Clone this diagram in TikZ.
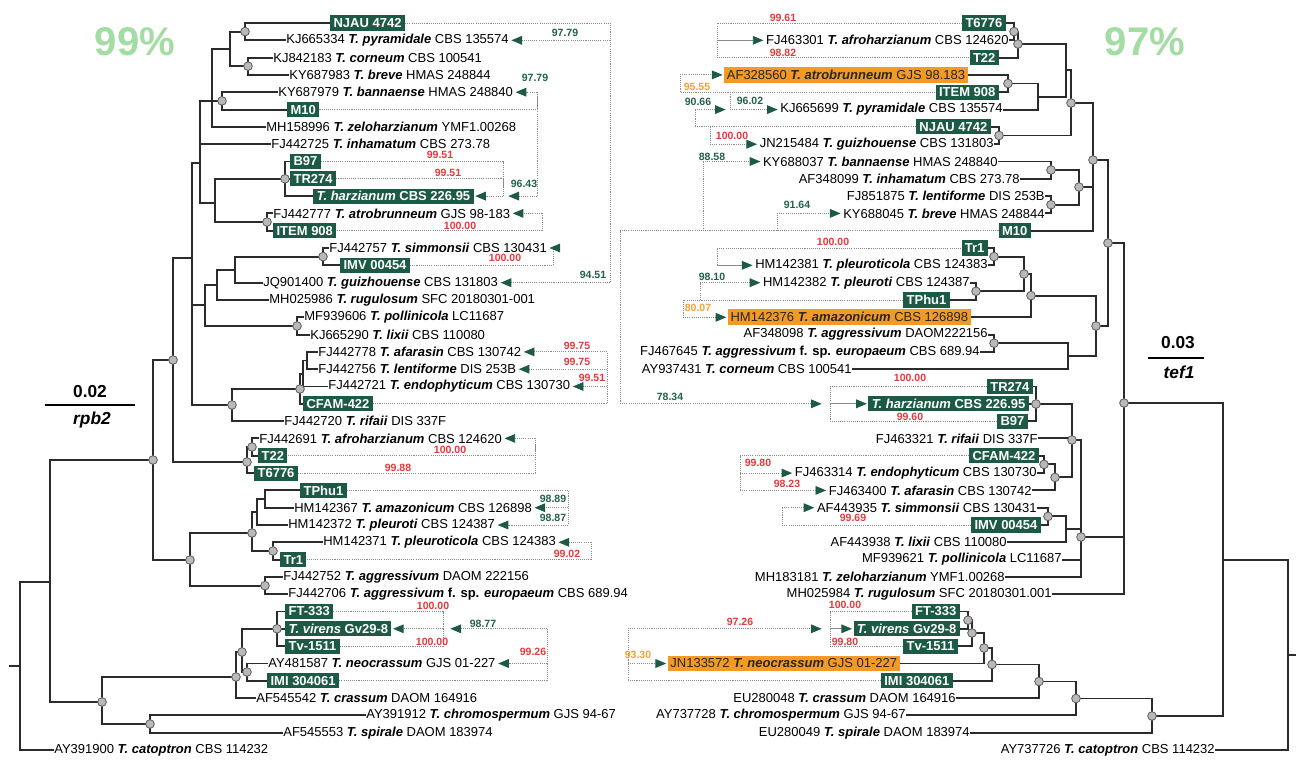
\documentclass[tikz,border=0pt]{standalone}
\usepackage{fontspec}
\setmainfont{Liberation Sans}
\usetikzlibrary{arrows.meta}
\definecolor{boxgreen}{HTML}{1D5A45}
\definecolor{hitorange}{HTML}{F39A26}
\definecolor{pctred}{HTML}{E5393B}
\definecolor{pctgreen}{HTML}{22614A}
\definecolor{pctorange}{HTML}{F0A33A}
\definecolor{bigpct}{HTML}{A3DDA3}
\definecolor{branch}{HTML}{2B2B2B}
\definecolor{dotline}{HTML}{8A8A8A}
\newcommand{\taxon}[1]{\textbf{\textit{#1}}}
\pgfdeclarelayer{bg}
\pgfsetlayers{bg,main}
\tikzset{
  lab/.style={font=\fontsize{9.75pt}{11pt}\selectfont, inner sep=0.8pt, text=black},
  gbox/.style={font=\fontsize{9.75pt}{11pt}\selectfont\bfseries, fill=boxgreen, text=white,
    inner xsep=2.5pt, inner ysep=1pt, minimum height=11.3pt},
  obox/.style={font=\fontsize{9.75pt}{11pt}\selectfont, fill=hitorange, text=black!85,
    inner xsep=2pt, inner ysep=1pt, minimum height=11.8pt},
  br/.style={draw=branch, line width=1.4pt, line cap=rect},
  dotnode/.style={circle, fill=gray!55, draw=black!65, line width=0.6pt, inner sep=0pt, minimum size=6.5pt},
  conn/.style={draw=dotline, line width=0.7pt, dash pattern=on 0.8pt off 0.8pt},
  solidconn/.style={draw=dotline, line width=0.7pt},
  arr/.style={-{Triangle[length=8pt,width=6.5pt,color=boxgreen]}, shorten >=1pt},
  pct/.style={font=\fontsize{7.9pt}{9pt}\selectfont\bfseries, inner sep=0pt},
  pr/.style={pct, text=pctred},
  pg/.style={pct, text=pctgreen},
  po/.style={pct, text=pctorange},
  bigp/.style={font=\fontsize{30pt}{32pt}\selectfont\bfseries, text=bigpct},
  scl/.style={font=\fontsize{13pt}{14pt}\selectfont\bfseries},
}
\begin{document}
\begin{tikzpicture}[x=0.75pt,y=-0.75pt]
\useasboundingbox (0,0) rectangle (1296,760);

% ---------------- rpb2 tree (left) ----------------
% leaves
\node[gbox,anchor=west] (L1) at (330,23.0) {NJAU 4742};
\node[lab,anchor=west] (L2) at (285,40.3) {KJ665334 \taxon{T. pyramidale} CBS 135574};
\node[lab,anchor=west] (L3) at (272,57.6) {KJ842183 \taxon{T. corneum} CBS 100541};
\node[lab,anchor=west] (L4) at (288,74.9) {KY687983 \taxon{T. breve} HMAS 248844};
\node[lab,anchor=west] (L5) at (277,92.2) {KY687979 \taxon{T. bannaense} HMAS 248840};
\node[gbox,anchor=west] (L6) at (287,109.6) {M10};
\node[lab,anchor=west] (L7) at (265,126.9) {MH158996 \taxon{T. zeloharzianum} YMF1.00268};
\node[lab,anchor=west] (L8) at (270,144.2) {FJ442725 \taxon{T. inhamatum} CBS 273.78};
\node[gbox,anchor=west] (L9) at (290,161.5) {B97};
\node[gbox,anchor=west] (L10) at (290,178.8) {TR274};
\node[gbox,anchor=west] (L11) at (313,196.1) {\textit{T. harzianum} CBS 226.95};
\node[lab,anchor=west] (L12) at (272,213.4) {FJ442777 \taxon{T. atrobrunneum} GJS 98-183};
\node[gbox,anchor=west] (L13) at (273,230.7) {ITEM 908};
\node[lab,anchor=west] (L14) at (328,248.0) {FJ442757 \taxon{T. simmonsii} CBS 130431};
\node[gbox,anchor=west] (L15) at (340,265.3) {IMV 00454};
\node[lab,anchor=west] (L16) at (262,282.7) {JQ901400 \taxon{T. guizhouense} CBS 131803};
\node[lab,anchor=west] (L17) at (268,300.0) {MH025986 \taxon{T. rugulosum} SFC 20180301-001};
\node[lab,anchor=west] (L18) at (303,317.3) {MF939606 \taxon{T. pollinicola} LC11687};
\node[lab,anchor=west] (L19) at (309,334.6) {KJ665290 \taxon{T. lixii} CBS 110080};
\node[lab,anchor=west] (L20) at (317,351.9) {FJ442778 \taxon{T. afarasin} CBS 130742};
\node[lab,anchor=west] (L21) at (317,369.2) {FJ442756 \taxon{T. lentiforme} DIS 253B};
\node[lab,anchor=west] (L22) at (327,386.5) {FJ442721 \taxon{T. endophyticum} CBS 130730};
\node[gbox,anchor=west] (L23) at (303,403.8) {CFAM-422};
\node[lab,anchor=west] (L24) at (283,421.1) {FJ442720 \taxon{T. rifaii} DIS 337F};
\node[lab,anchor=west] (L25) at (258,438.4) {FJ442691 \taxon{T. afroharzianum} CBS 124620};
\node[gbox,anchor=west] (L26) at (258,455.8) {T22};
\node[gbox,anchor=west] (L27) at (254,473.1) {T6776};
\node[gbox,anchor=west] (L28) at (300,490.4) {TPhu1};
\node[lab,anchor=west] (L29) at (293,507.7) {HM142367 \taxon{T. amazonicum} CBS 126898};
\node[lab,anchor=west] (L30) at (287,525.0) {HM142372 \taxon{T. pleuroti} CBS 124387};
\node[lab,anchor=west] (L31) at (322,542.3) {HM142371 \taxon{T. pleuroticola} CBS 124383};
\node[gbox,anchor=west] (L32) at (280,559.6) {Tr1};
\node[lab,anchor=west] (L33) at (282,576.9) {FJ442752 \taxon{T. aggressivum} DAOM 222156};
\node[lab,anchor=west] (L34) at (287,594.2) {FJ442706 \taxon{T. aggressivum} \textbf{f. sp.} \taxon{europaeum} CBS 689.94};
\node[gbox,anchor=west] (L35) at (285,611.5) {FT-333};
\node[gbox,anchor=west] (L36) at (285,628.8) {\textit{T. virens} Gv29-8};
\node[gbox,anchor=west] (L37) at (285,646.2) {Tv-1511};
\node[lab,anchor=west] (L38) at (267,663.5) {AY481587 \taxon{T. neocrassum} GJS 01-227};
\node[gbox,anchor=west] (L39) at (267,680.8) {IMI 304061};
\node[lab,anchor=west] (L40) at (255,698.1) {AF545542 \taxon{T. crassum} DAOM 164916};
\node[lab,anchor=west] (L41) at (365,715.4) {AY391912 \taxon{T. chromospermum} GJS 94-67};
\node[lab,anchor=west] (L42) at (282,732.7) {AF545553 \taxon{T. spirale} DAOM 183974};
\node[lab,anchor=west] (L43) at (53,750.0) {AY391900 \taxon{T. catoptron} CBS 114232};

% internal nodes with support dots
\node[dotnode] (n1) at (245,31.6) {};
\node[dotnode] (n2) at (248,66.2) {};
\node[dotnode] (n4) at (222,100.9) {};
\node[dotnode] (n8) at (285,178.8) {};
\node[dotnode] (n9) at (267,222.0) {};
\node[dotnode] (n12) at (323,256.6) {};
\node[dotnode] (n16) at (297,326.0) {};
\node[dotnode] (n17) at (300,389.0) {};
\node[dotnode] (n15) at (232,405.0) {};
\node[dotnode] (n20) at (252,447.0) {};
\node[dotnode] (nE) at (247,462.0) {};
\node[dotnode] (nB) at (173,360.0) {};
\node[dotnode] (n24) at (273,551.0) {};
\node[dotnode] (n21) at (252,533.0) {};
\node[dotnode] (n22) at (265,585.6) {};
\node[dotnode] (nC) at (190,560.0) {};
\node[dotnode] (nA) at (153,460.0) {};
\node[dotnode] (n26) at (277,628.8) {};
\node[dotnode] (n27) at (247,672.0) {};
\node[dotnode] (n28) at (242,652.0) {};
\node[dotnode] (n29) at (236,677.0) {};
\node[dotnode] (n31) at (150,724.0) {};
\node[dotnode] (n30) at (102,702.0) {};
% internal nodes without dots
\coordinate (n3) at (230,48.9);
\coordinate (n5) at (212,100.9);
\coordinate (n6) at (200,163.0);
\coordinate (n7) at (215,203.0);
\coordinate (nD) at (192,258.0);
\coordinate (n13) at (235,270.0);
\coordinate (n14) at (217,285.0);
\coordinate (n11) at (205,305.0);
\coordinate (n18) at (307,360.5);
\coordinate (n19) at (303,374.0);
\coordinate (n25) at (265,499.0);
\coordinate (n23) at (257,512.0);
\coordinate (nG) at (50,582.0);
\coordinate (nRt) at (20,666.0);
\coordinate (lstub) at (10,666.0);

\begin{pgfonlayer}{bg}
\foreach \c/\p in {L1/n1,L2/n1,L3/n2,L4/n2,L5/n4,L6/n4,L7/n5,L8/n6,L9/n8,L10/n8,L11/n8,
  L12/n9,L13/n9,L14/n12,L15/n12,L16/n13,L17/n14,L18/n16,L19/n16,L20/n18,L21/n18,L22/n19,
  L23/n17,L24/n15,L25/n20,L26/n20,L27/nE,L28/n25,L29/n25,L30/n23,L31/n24,L32/n24,L33/n22,
  L34/n22,L35/n26,L36/n26,L37/n26,L38/n27,L39/n27,L40/n29,L41/n31,L42/n31,L43/nRt}
  \draw[br] (\c.west) -| (\p.center);
\foreach \c/\p in {n1/n3,n2/n3,n3/n5,n4/n5,n5/n6,n7/n6,n8/n7,n9/n7,n6/nD,n12/n13,n13/n14,
  n14/n11,n16/n11,n11/nD,n18/n19,n19/n17,n17/n15,n15/nD,nD/nB,n20/nE,nE/nB,n25/n23,n23/n21,
  n24/n21,n21/nC,n22/nC,nB/nA,nC/nA,n26/n28,n27/n28,n28/n29,n29/n30,n31/n30,nA/nG,n30/nG,nG/nRt}
  \draw[br] (\c.center) -| (\p.center);
\draw[br] (nRt) -- (lstub);
\end{pgfonlayer}

% genome hits, left panel
\coordinate (cA) at (610,282.7);
\draw[conn] (L1.east) -| (cA);
\draw[conn,arr] (cA) -- (L16.east);
\draw[conn,arr] (L2.east -| cA) -- (L2.east);
\coordinate (cBt) at (537,92.2);
\coordinate (cB) at (537,196.1);
\coordinate (cBtip) at (507,196.1);
\draw[conn] (L6.east) -| (cBt);
\draw[conn] (cBt) -- (cB);
\draw[conn,arr] (cBt) -- (L5.east);
\draw[conn,arr] (cB) -- (cBtip);
\coordinate (cC) at (503,196.1);
\draw[conn] (L9.east) -| (cC);
\draw[conn] (L10.east) -| (cC);
\draw[conn,arr] (cC) -- (L11.east);
\coordinate (cD) at (542,213.4);
\draw[conn] (L13.east) -| (cD);
\draw[conn,arr] (cD) -- (L12.east);
\coordinate (cE) at (553,248.0);
\draw[conn] (L15.east) -| (cE);
\draw[conn,arr] (cE) -- (L14.east);
\coordinate (cF) at (607,351.9);
\draw[conn] (L23.east) -| (cF);
\draw[conn,arr] (cF) -- (L20.east);
\draw[conn,arr] (L21.east -| cF) -- (L21.east);
\draw[conn,arr] (L22.east -| cF) -- (L22.east);
\coordinate (cG) at (535,438.4);
\draw[conn] (L26.east) -| (cG);
\draw[conn] (L27.east) -| (cG);
\draw[conn,arr] (cG) -- (L25.east);
\coordinate (cH) at (568,525.0);
\draw[conn] (L28.east) -| (cH);
\draw[conn,arr] (cH) -- (L30.east);
\draw[conn,arr] (L29.east -| cH) -- (L29.east);
\coordinate (cI) at (591,542.3);
\draw[conn] (L32.east) -| (cI);
\draw[conn,arr] (cI) -- (L31.east);
\coordinate (cJ) at (443,628.8);
\draw[conn] (L35.east) -| (cJ);
\draw[conn] (L37.east) -| (cJ);
\draw[conn,arr] (cJ) -- (L36.east);
\coordinate (cK) at (547,628.8);
\coordinate (cKtip) at (449,628.8);
\draw[conn] (L39.east) -| (cK);
\draw[conn,arr] (cK) -- (cKtip);
\draw[conn,arr] (L38.east -| cK) -- (L38.east);

\node[pg] (p1) at (565,33) {97.79};
\node[pg] (p2) at (535,78) {97.79};
\node[pr] (p3) at (440,155) {99.51};
\node[pr] (p4) at (448,173) {99.51};
\node[pg] (p5) at (524,184) {96.43};
\node[pr] (p6) at (460,226) {100.00};
\node[pr] (p7) at (505,258) {100.00};
\node[pg] (p8) at (593,275) {94.51};
\node[pr] (p9) at (577,346) {99.75};
\node[pr] (p10) at (577,362) {99.75};
\node[pr] (p11) at (592,378) {99.51};
\node[pr] (p12) at (450,450) {100.00};
\node[pr] (p13) at (398,468) {99.88};
\node[pg] (p14) at (553,499) {98.89};
\node[pg] (p15) at (553,518) {98.87};
\node[pr] (p16) at (567,554) {99.02};
\node[pr] (p17) at (433,606) {100.00};
\node[pr] (p18) at (432,642) {100.00};
\node[pg] (p19) at (483,624) {98.77};
\node[pr] (p20) at (533,652) {99.26};

\node[bigp] (t99) at (135,42) {99\%};
\node[scl] (sl1) at (90,392) {0.02};
\coordinate (sb1a) at (45,405);
\coordinate (sb1b) at (135,405);
\draw[line width=1.4pt] (sb1a) -- (sb1b);
\node[scl,font=\fontsize{13pt}{14pt}\selectfont\bfseries\itshape] (sg1) at (92,420) {rpb2};

% ---------------- tef1 tree (right) ----------------
\node[gbox,anchor=east] (R1) at (1006,23.0) {T6776};
\node[lab,anchor=east] (R2) at (1010,40.3) {FJ463301 \taxon{T. afroharzianum} CBS 124620};
\node[gbox,anchor=east] (R3) at (999,57.6) {T22};
\node[obox,anchor=east] (R4) at (968,74.9) {AF328560 \taxon{T. atrobrunneum} GJS 98.183};
\node[gbox,anchor=east] (R5) at (999,92.2) {ITEM 908};
\node[lab,anchor=east] (R6) at (1004,109.6) {KJ665699 \taxon{T. pyramidale} CBS 135574};
\node[gbox,anchor=east] (R7) at (991,126.9) {NJAU 4742};
\node[lab,anchor=east] (R8) at (995,144.2) {JN215484 \taxon{T. guizhouense} CBS 131803};
\node[lab,anchor=east] (R9) at (999,161.5) {KY688037 \taxon{T. bannaense} HMAS 248840};
\node[lab,anchor=east] (R10) at (1021,178.8) {AF348099 \taxon{T. inhamatum} CBS 273.78};
\node[lab,anchor=east] (R11) at (1046,196.1) {FJ851875 \taxon{T. lentiforme} DIS 253B};
\node[lab,anchor=east] (R12) at (1046,213.4) {KY688045 \taxon{T. breve} HMAS 248844};
\node[gbox,anchor=east] (R13) at (1031,230.7) {M10};
\node[gbox,anchor=east] (R14) at (988,248.0) {Tr1};
\node[lab,anchor=east] (R15) at (989,265.3) {HM142381 \taxon{T. pleuroticola} CBS 124383};
\node[lab,anchor=east] (R16) at (971,282.7) {HM142382 \taxon{T. pleuroti} CBS 124387};
\node[gbox,anchor=east] (R17) at (950,300.0) {TPhu1};
\node[obox,anchor=east] (R18) at (971,317.3) {HM142376 \taxon{T. amazonicum} CBS 126898};
\node[lab,anchor=east] (R19) at (989,334.6) {AF348098 \taxon{T. aggressivum} DAOM222156};
\node[lab,anchor=east] (R20) at (981,351.9) {FJ467645 \taxon{T. aggressivum} \textbf{f. sp.} \taxon{europaeum} CBS 689.94};
\node[lab,anchor=east] (R21) at (853,369.2) {AY937431 \taxon{T. corneum} CBS 100541};
\node[gbox,anchor=east] (R22) at (1033,386.5) {TR274};
\node[gbox,anchor=east] (R23) at (1029,403.8) {\textit{T. harzianum} CBS 226.95};
\node[gbox,anchor=east] (R24) at (1028,421.1) {B97};
\node[lab,anchor=east] (R25) at (1039,438.4) {FJ463321 \taxon{T. rifaii} DIS 337F};
\node[gbox,anchor=east] (R26) at (1039,455.8) {CFAM-422};
\node[lab,anchor=east] (R27) at (1038,473.1) {FJ463314 \taxon{T. endophyticum} CBS 130730};
\node[lab,anchor=east] (R28) at (1033,490.4) {FJ463400 \taxon{T. afarasin} CBS 130742};
\node[lab,anchor=east] (R29) at (1038,507.7) {AF443935 \taxon{T. simmonsii} CBS 130431};
\node[gbox,anchor=east] (R30) at (1041,525.0) {IMV 00454};
\node[lab,anchor=east] (R31) at (1008,542.3) {AF443938 \taxon{T. lixii} CBS 110080};
\node[lab,anchor=east] (R32) at (1063,559.6) {MF939621 \taxon{T. pollinicola} LC11687};
\node[lab,anchor=east] (R33) at (1006,576.9) {MH183181 \taxon{T. zeloharzianum} YMF1.00268};
\node[lab,anchor=east] (R34) at (1053,594.2) {MH025984 \taxon{T. rugulosum} SFC 20180301.001};
\node[gbox,anchor=east] (R35) at (960,611.5) {FT-333};
\node[gbox,anchor=east] (R36) at (960,628.8) {\textit{T. virens} Gv29-8};
\node[gbox,anchor=east] (R37) at (958,646.2) {Tv-1511};
\node[obox,anchor=east] (R38) at (900,663.5) {JN133572 \taxon{T. neocrassum} GJS 01-227};
\node[gbox,anchor=east] (R39) at (953,680.8) {IMI 304061};
\node[lab,anchor=east] (R40) at (957,698.1) {EU280048 \taxon{T. crassum} DAOM 164916};
\node[lab,anchor=east] (R41) at (907,715.4) {AY737728 \taxon{T. chromospermum} GJS 94-67};
\node[lab,anchor=east] (R42) at (971,732.7) {EU280049 \taxon{T. spirale} DAOM 183974};
\node[lab,anchor=east] (R43) at (1216,750.0) {AY737726 \taxon{T. catoptron} CBS 114232};

\node[dotnode] (r1) at (1014,31.6) {};
\node[dotnode] (r2) at (1018,44.0) {};
\node[dotnode] (r4) at (1008,83.5) {};
\node[dotnode] (r6) at (999,135.5) {};
\node[dotnode] (r7) at (1071,103.0) {};
\node[dotnode] (r8) at (1051,170.0) {};
\node[dotnode] (r9) at (1051,204.7) {};
\node[dotnode] (r10) at (1079,187.0) {};
\node[dotnode] (r11) at (1093,160.0) {};
\node[dotnode] (r12) at (994,256.6) {};
\node[dotnode] (r13) at (976,291.3) {};
\node[dotnode] (r14) at (1024,274.0) {};
\node[dotnode] (r15) at (1031,295.6) {};
\node[dotnode] (r16) at (994,343.2) {};
\node[dotnode] (r18) at (1096,326.0) {};
\node[dotnode] (r19) at (1108,243.0) {};
\node[dotnode] (r20) at (1036,404.0) {};
\node[dotnode] (r21) at (1044,464.4) {};
\node[dotnode] (r22) at (1055,477.4) {};
\node[dotnode] (r23) at (1072,440.0) {};
\node[dotnode] (r24) at (1048,516.4) {};
\node[dotnode] (r26) at (1081,537.0) {};
\node[dotnode] (r27) at (1124,403.0) {};
\node[dotnode] (r28) at (968,620.2) {};
\node[dotnode] (r29) at (972,633.0) {};
\node[dotnode] (r30) at (984,648.0) {};
\node[dotnode] (r31) at (992,664.5) {};
\node[dotnode] (r32) at (1039,681.5) {};
\node[dotnode] (r33) at (1076,698.5) {};
\node[dotnode] (r34) at (1152,716.0) {};
\coordinate (r3) at (1066,70.0);
\coordinate (r5) at (1038,97.0);
\coordinate (r17) at (1068,356.0);
\coordinate (r25) at (1066,529.4);
\coordinate (r35) at (1223,560.0);
\coordinate (rRt) at (1288,655.0);
\coordinate (rstub) at (1296,655.0);

\begin{pgfonlayer}{bg}
\foreach \c/\p in {R1/r1,R2/r1,R3/r2,R4/r4,R5/r4,R6/r5,R7/r6,R8/r6,R9/r8,R10/r8,R11/r9,R12/r9,
  R13/r11,R14/r12,R15/r12,R16/r13,R17/r13,R18/r15,R19/r16,R20/r16,R21/r17,R22/r20,R23/r20,
  R24/r20,R25/r23,R26/r21,R27/r21,R28/r22,R29/r24,R30/r24,R31/r25,R32/r26,R33/r26,R34/r27,
  R35/r28,R36/r28,R37/r29,R38/r30,R39/r31,R40/r32,R41/r33,R42/r34,R43/rRt}
  \draw[br] (\c.east) -| (\p.center);
\foreach \c/\p in {r1/r2,r2/r3,r4/r5,r5/r3,r3/r7,r6/r7,r7/r11,r8/r10,r9/r10,r10/r11,r11/r19,
  r12/r14,r13/r14,r14/r15,r15/r18,r16/r17,r17/r18,r18/r19,r19/r27,r20/r23,r21/r22,r22/r23,
  r23/r26,r24/r25,r25/r26,r26/r27,r27/r35,r28/r29,r29/r30,r30/r31,r31/r32,r32/r33,r33/r34,
  r34/r35,r35/rRt}
  \draw[br] (\c.center) -| (\p.center);
\draw[br] (rRt) -- (rstub);
\end{pgfonlayer}

% genome hits, right panel
\coordinate (dA) at (717,40.3);
\draw[conn] (R1.west) -| (dA);
\draw[conn] (R3.west) -| (dA);
\draw[solidconn,arr] (dA) -- (R2.west);
\coordinate (dB) at (680,74.9);
\coordinate (dB2) at (730,109.6);
\draw[conn] (R5.west) -| (dB);
\draw[conn,arr] (dB) -- (R4.west);
\draw[conn] (R5.west -| dB2) -- (dB2);
\draw[conn,arr] (dB2) -- (R6.west);
\coordinate (dC) at (695,109.6);
\coordinate (dCtip) at (727,109.6);
\coordinate (dC2) at (710,144.2);
\draw[conn] (R7.west) -| (dC);
\draw[conn,arr] (dC) -- (dCtip);
\draw[conn] (R7.west -| dC2) -- (dC2);
\draw[conn,arr] (dC2) -- (R8.west);
\coordinate (dD) at (620,403.8);
\coordinate (dDtip) at (823,403.8);
\coordinate (dD2) at (703,161.5);
\coordinate (dD3) at (777,213.4);
\draw[conn] (R13.west) -| (dD);
\draw[conn,arr] (dD) -- (dDtip);
\draw[conn] (R13.west -| dD2) -- (dD2);
\draw[conn,arr] (dD2) -- (R9.west);
\draw[conn] (R13.west -| dD3) -- (dD3);
\draw[conn,arr] (dD3) -- (R12.west);
\coordinate (dE) at (830,403.8);
\draw[conn] (R22.west) -| (dE);
\draw[conn] (R24.west) -| (dE);
\draw[solidconn,arr] (dE) -- (R23.west);
\coordinate (dF) at (717,265.3);
\draw[conn] (R14.west) -| (dF);
\draw[solidconn,arr] (dF) -- (R15.west);
\coordinate (dG) at (683,317.3);
\coordinate (dG2) at (700,282.7);
\draw[conn] (R17.west) -| (dG);
\draw[conn,arr] (dG) -- (R18.west);
\draw[conn] (R17.west -| dG2) -- (dG2);
\draw[conn,arr] (dG2) -- (R16.west);
\coordinate (dH) at (740,490.4);
\draw[conn] (R26.west) -| (dH);
\draw[conn,arr] (dH) -- (R28.west);
\draw[conn,arr] (R27.west -| dH) -- (R27.west);
\coordinate (dI) at (782,507.7);
\draw[conn] (R30.west) -| (dI);
\draw[conn,arr] (dI) -- (R29.west);
\coordinate (dJ) at (830,628.8);
\draw[conn] (R35.west) -| (dJ);
\draw[conn] (R37.west) -| (dJ);
\draw[solidconn,arr] (dJ) -- (R36.west);
\coordinate (dK) at (628,628.8);
\coordinate (dKtip) at (823,628.8);
\draw[conn] (R39.west) -| (dK);
\draw[conn,arr] (dK) -- (dKtip);
\draw[conn,arr] (R38.west -| dK) -- (R38.west);

\node[pr] (q1) at (783,18) {99.61};
\node[pr] (q2) at (783,53) {98.82};
\node[po] (q3) at (697,87) {95.55};
\node[pg] (q4) at (750,101) {96.02};
\node[pg] (q5) at (698,102) {90.66};
\node[pr] (q6) at (732,136) {100.00};
\node[pg] (q7) at (712,157) {88.58};
\node[pg] (q8) at (797,205) {91.64};
\node[pr] (q9) at (833,242) {100.00};
\node[pg] (q10) at (712,277) {98.10};
\node[po] (q11) at (698,308) {80.07};
\node[pr] (q12) at (910,378) {100.00};
\node[pg] (q13) at (670,397) {78.34};
\node[pr] (q14) at (910,417) {99.60};
\node[pr] (q15) at (758,463) {99.80};
\node[pr] (q16) at (787,484) {98.23};
\node[pr] (q17) at (853,518) {99.69};
\node[pr] (q18) at (845,605) {100.00};
\node[pr] (q19) at (740,622) {97.26};
\node[pr] (q20) at (845,642) {99.80};
\node[po] (q21) at (638,655) {93.30};

\node[bigp] (t97) at (1145,42) {97\%};
\node[scl] (sl2) at (1178,343) {0.03};
\coordinate (sb2a) at (1148,358);
\coordinate (sb2b) at (1204,358);
\draw[line width=1.4pt] (sb2a) -- (sb2b);
\node[scl,font=\fontsize{13pt}{14pt}\selectfont\bfseries\itshape] (sg2) at (1179,372) {tef1};
\end{tikzpicture}
\end{document}
